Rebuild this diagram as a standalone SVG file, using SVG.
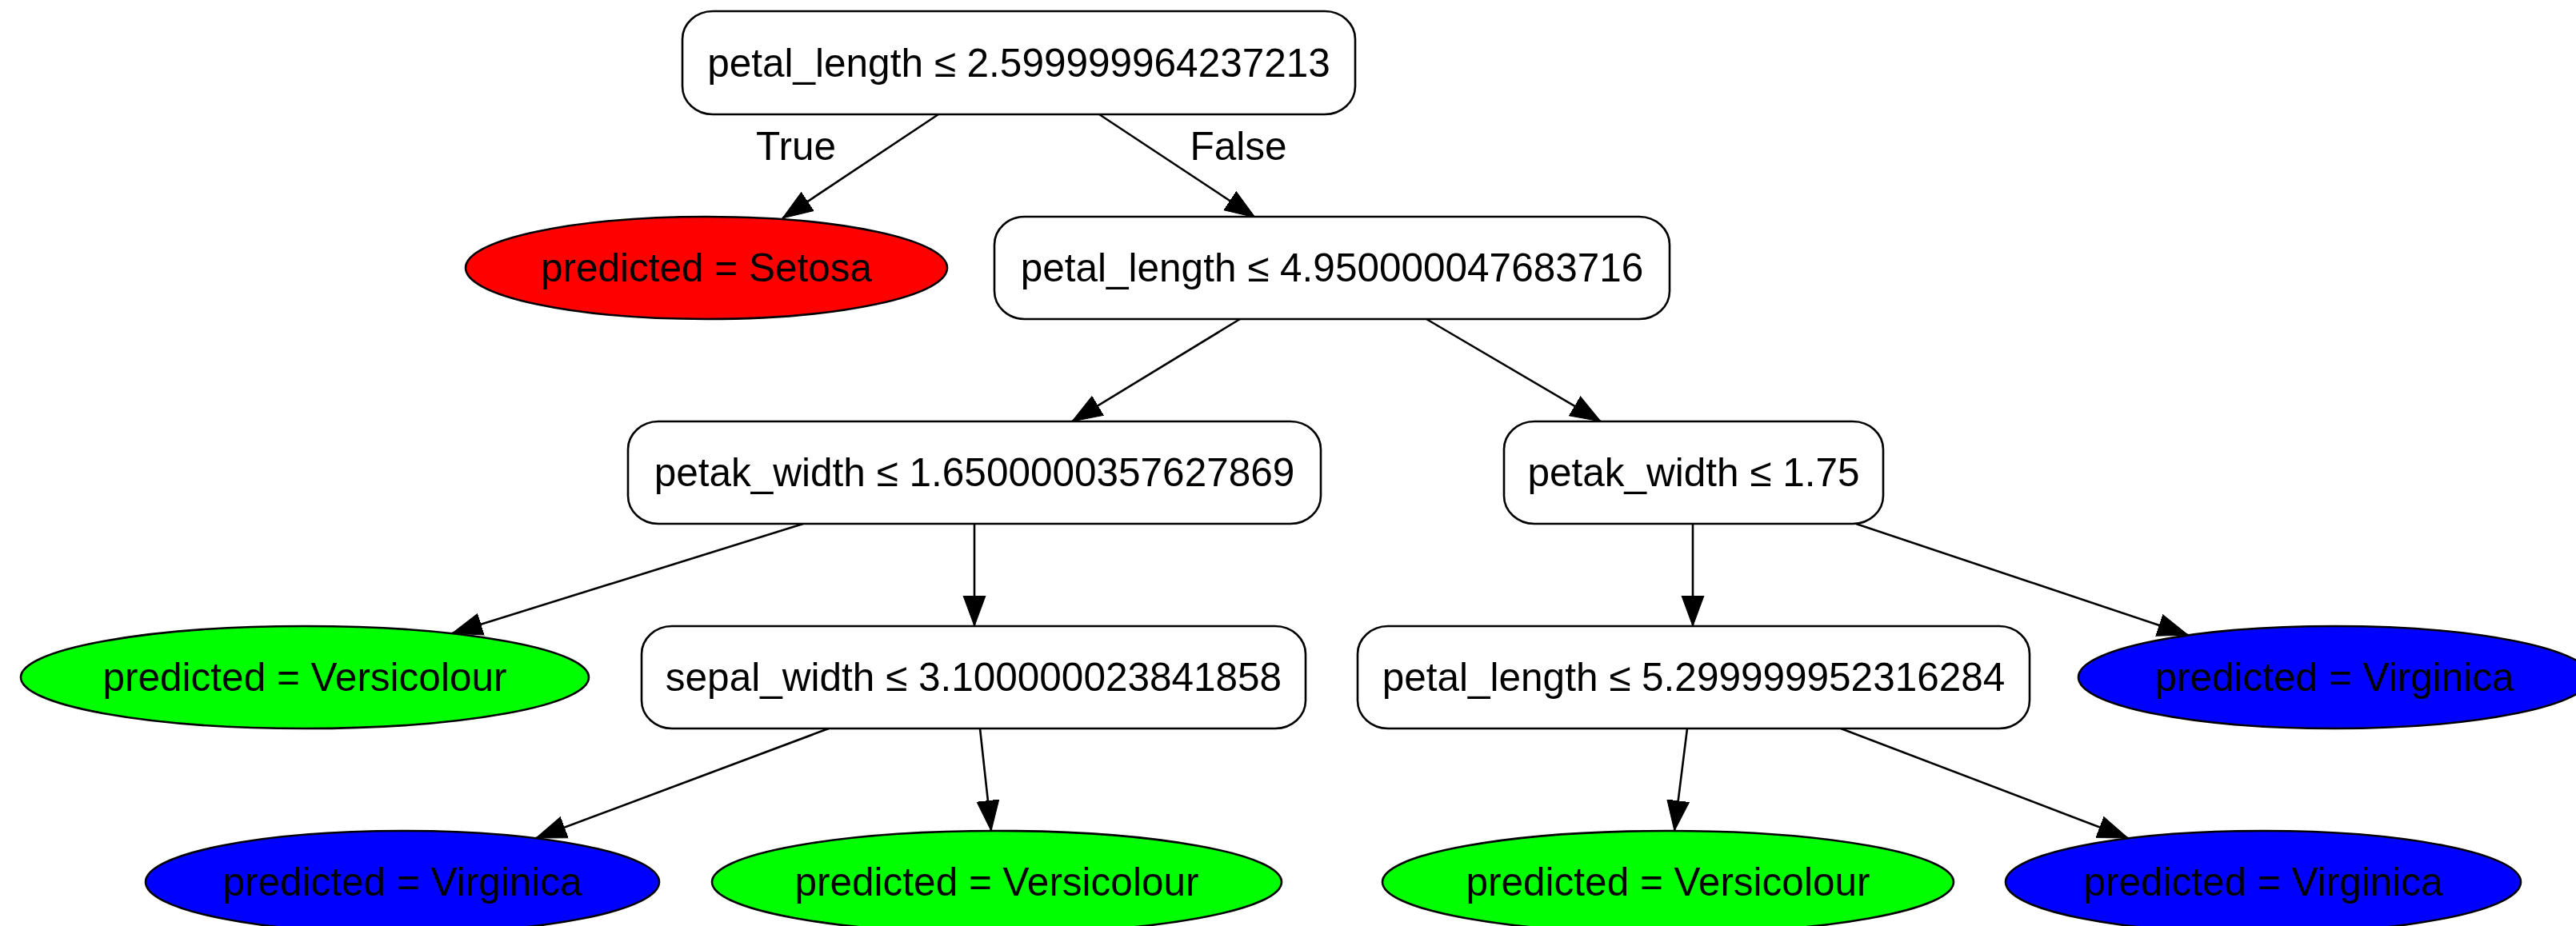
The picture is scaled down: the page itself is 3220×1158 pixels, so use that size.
<svg xmlns="http://www.w3.org/2000/svg" width="3220" height="1158" viewBox="0 0 3220 1158">
  <style>
    .box { fill: #ffffff; stroke: #000000; stroke-width: 2.6; }
    .leaf { stroke: #000000; stroke-width: 2.6; }
    .setosa { fill: #ff0000; }
    .versicolour { fill: #00ff00; }
    .virginica { fill: #0000ff; }
    .lbl { font-family: "Liberation Sans", Arial, Helvetica, sans-serif; font-size: 49.5px; fill: #000000; text-anchor: middle; }
    .edge { fill: none; stroke: #000000; stroke-width: 2.6; marker-end: url(#arrow); }
  </style>
  <defs>
    <marker id="arrow" markerUnits="userSpaceOnUse" markerWidth="40" markerHeight="30" viewBox="0 -15 40 30" refX="38" refY="0" orient="auto">
      <path d="M0,-14 L38,0 L0,14 Z" fill="#000000" stroke="#000000" stroke-width="1"/>
    </marker>
  </defs>
  <rect width="3220" height="1158" fill="#ffffff"/>

  <!-- connectors -->
  <g id="edges">
    <line class="edge" x1="1173" y1="143" x2="978" y2="273"/>
    <line class="edge" x1="1374" y1="143" x2="1569" y2="272"/>
    <line class="edge" x1="1550" y1="399" x2="1340" y2="527"/>
    <line class="edge" x1="1783" y1="399" x2="2001" y2="527"/>
    <line class="edge" x1="1004" y1="655" x2="565" y2="792"/>
    <line class="edge" x1="1218" y1="655" x2="1218" y2="783"/>
    <line class="edge" x1="2116" y1="655" x2="2116" y2="783"/>
    <line class="edge" x1="2320" y1="655" x2="2735" y2="794"/>
    <line class="edge" x1="1036" y1="911" x2="670" y2="1048"/>
    <line class="edge" x1="1225" y1="911" x2="1239" y2="1039"/>
    <line class="edge" x1="2109" y1="911" x2="2093" y2="1039"/>
    <line class="edge" x1="2301" y1="911" x2="2660" y2="1048"/>
    <text class="lbl" x="995" y="200">True</text>
    <text class="lbl" x="1548" y="200">False</text>
  </g>

  <!-- split nodes -->
  <g id="node0">
    <rect class="box" x="853" y="14" width="841" height="129" rx="38" ry="35"/>
    <text class="lbl" x="1273.5" y="96">petal_length ≤ 2.599999964237213</text>
  </g>
  <g id="node2">
    <rect class="box" x="1243" y="271" width="844" height="128" rx="38" ry="35"/>
    <text class="lbl" x="1665" y="352">petal_length ≤ 4.950000047683716</text>
  </g>
  <g id="node3">
    <rect class="box" x="785" y="527" width="866" height="128" rx="38" ry="35"/>
    <text class="lbl" x="1218" y="608">petak_width ≤ 1.6500000357627869</text>
  </g>
  <g id="node4">
    <rect class="box" x="1880" y="527" width="474" height="128" rx="38" ry="35"/>
    <text class="lbl" x="2117" y="608">petak_width ≤ 1.75</text>
  </g>
  <g id="node6">
    <rect class="box" x="802" y="783" width="830" height="128" rx="38" ry="35"/>
    <text class="lbl" x="1217" y="864">sepal_width ≤ 3.100000023841858</text>
  </g>
  <g id="node7">
    <rect class="box" x="1697" y="783" width="840" height="128" rx="38" ry="35"/>
    <text class="lbl" x="2117" y="864">petal_length ≤ 5.299999952316284</text>
  </g>

  <!-- leaf nodes -->
  <g id="node1">
    <ellipse class="leaf setosa" cx="883" cy="335" rx="301" ry="64"/>
    <text class="lbl" x="883" y="352">predicted = Setosa</text>
  </g>
  <g id="node5">
    <ellipse class="leaf versicolour" cx="381" cy="847" rx="355" ry="64"/>
    <text class="lbl" x="381" y="864">predicted = Versicolour</text>
  </g>
  <g id="node8">
    <ellipse class="leaf virginica" cx="2918" cy="847" rx="320" ry="64"/>
    <text class="lbl" x="2918" y="864">predicted = Virginica</text>
  </g>
  <g id="node9">
    <ellipse class="leaf virginica" cx="503" cy="1103" rx="321" ry="64"/>
    <text class="lbl" x="503" y="1120">predicted = Virginica</text>
  </g>
  <g id="node10">
    <ellipse class="leaf versicolour" cx="1246" cy="1103" rx="356" ry="64"/>
    <text class="lbl" x="1246" y="1120">predicted = Versicolour</text>
  </g>
  <g id="node11">
    <ellipse class="leaf versicolour" cx="2085" cy="1103" rx="357" ry="64"/>
    <text class="lbl" x="2085" y="1120">predicted = Versicolour</text>
  </g>
  <g id="node12">
    <ellipse class="leaf virginica" cx="2829" cy="1103" rx="322" ry="64"/>
    <text class="lbl" x="2829" y="1120">predicted = Virginica</text>
  </g>
</svg>
